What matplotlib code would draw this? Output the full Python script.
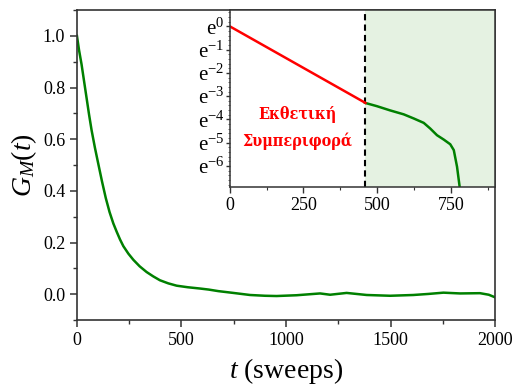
import matplotlib.pyplot as plt
import numpy as np
from matplotlib.ticker import MultipleLocator, FixedLocator, NullFormatter

plt.rcParams['font.family'] = ['Liberation Serif', 'DejaVu Serif']
plt.rcParams['mathtext.fontset'] = 'custom'
plt.rcParams['mathtext.rm'] = 'Liberation Serif'
plt.rcParams['mathtext.it'] = 'Liberation Serif:italic'
plt.rcParams['mathtext.bf'] = 'Liberation Serif:bold'

# autocorrelation G_M(t) vs sweeps
t = [0, 10, 22, 34, 46, 58, 70, 86, 102, 120, 138, 156, 174, 190, 206, 222,
     246, 270, 300, 333, 365, 397, 437, 477, 530, 589, 630, 676, 748, 828, 900,
     955, 1050, 1163, 1211, 1290, 1386, 1498, 1609, 1680, 1753, 1833, 1928,
     1970, 2000]
G = [1.0, 0.945, 0.89, 0.825, 0.76, 0.695, 0.635, 0.567, 0.505, 0.436, 0.372,
     0.318, 0.274, 0.242, 0.212, 0.186, 0.157, 0.133, 0.108, 0.086, 0.069,
     0.054, 0.042, 0.033, 0.027, 0.022, 0.018, 0.012, 0.005, -0.003, -0.006,
     -0.007, -0.004, 0.003, -0.002, 0.005, -0.003, -0.006, -0.003, 0.001,
     0.006, 0.003, 0.004, -0.002, -0.012]

# exponential fit (red) and the tail that leaves it (green), log scale
fit_t = [0, 460]
fit_G = [1.0, 0.0373]
tail_t = [459, 499, 544, 590, 624, 658, 680, 703, 726, 748, 760, 771, 780, 785]
tail_G = [0.0373, 0.0324, 0.0270, 0.0228, 0.0191, 0.0158, 0.0124, 0.0093,
          0.0077, 0.0063, 0.0049, 0.0024, 0.0010, 0.0005]
t_cut = 460

fig = plt.figure(figsize=(5.13, 3.87), dpi=100)
ax = fig.add_axes([0.150, 0.173, 0.815, 0.801])
ax.plot(t, G, color='#008000', lw=1.8)
ax.set_xlim(0, 2000)
ax.set_ylim(-0.1, 1.1)
ax.xaxis.set_major_locator(MultipleLocator(500))
ax.xaxis.set_minor_locator(MultipleLocator(250))
ax.yaxis.set_major_locator(FixedLocator([0, 0.2, 0.4, 0.6, 0.8, 1.0]))
ax.yaxis.set_minor_locator(MultipleLocator(0.1))
ax.set_yticklabels(['0.0', '0.2', '0.4', '0.6', '0.8', '1.0'])
ax.tick_params(which='major', direction='out', length=5, width=1.1, labelsize=13, colors='#333333', labelcolor='black')
ax.tick_params(which='minor', direction='out', length=3, width=1.0, colors='#333333')
for s in ax.spines.values():
    s.set_color('#333333')
    s.set_linewidth(1.2)
ax.set_xlabel(r'$t$ (sweeps)', fontsize=20, labelpad=5)
ax.set_ylabel(r'$G_M(t)$', fontsize=20, labelpad=3)

# inset
ins = fig.add_axes([0.448, 0.517, 0.517, 0.457])
ins.axvspan(t_cut, 900, color='#e5f2e2', lw=0)
ins.axvline(t_cut, color='black', ls='--', lw=1.5, dashes=(3, 2))
ins.plot(tail_t, tail_G, color='#008000', lw=1.8)
ins.plot(fit_t, fit_G, color='#ff0000', lw=1.8)
ins.set_yscale('log')
ins.set_xlim(0, 900)
ins.set_ylim(np.exp(-6.9), np.exp(0.7))
ins.xaxis.set_major_locator(MultipleLocator(250))
ins.xaxis.set_minor_locator(MultipleLocator(125))
ins.yaxis.set_major_locator(FixedLocator(np.exp(np.arange(-6, 1))))
ins.yaxis.set_minor_locator(FixedLocator(np.exp(np.arange(-6.8, 0.8, 0.2))))
ins.yaxis.set_minor_formatter(NullFormatter())
ins.set_yticklabels([r'$\mathrm{e}^{%d}$' % k for k in range(-6, 1)])
ins.tick_params(axis='x', which='major', direction='out', length=4, width=1.0, labelsize=13, colors='#333333', labelcolor='black')
ins.tick_params(axis='x', which='minor', direction='out', length=2.5, width=0.8, colors='#333333')
ins.tick_params(axis='y', which='major', direction='out', length=3, width=1.0, labelsize=15, pad=1, colors='#333333', labelcolor='black')
ins.tick_params(axis='y', which='minor', direction='out', length=1.5, width=0.6, colors='#555555')
for s in ins.spines.values():
    s.set_color('#333333')
    s.set_linewidth(1.1)
greek = dict(color='#ff0000', fontsize=11.5, fontweight='bold', ha='center', va='center',
             family=['DejaVu Serif'], fontstretch='condensed')
ins.text(228, np.exp(-3.8), 'Εκθετική', **greek)
ins.text(228, np.exp(-4.95), 'Συμπεριφορά', **greek)

fig.savefig('out.png', dpi=100)
